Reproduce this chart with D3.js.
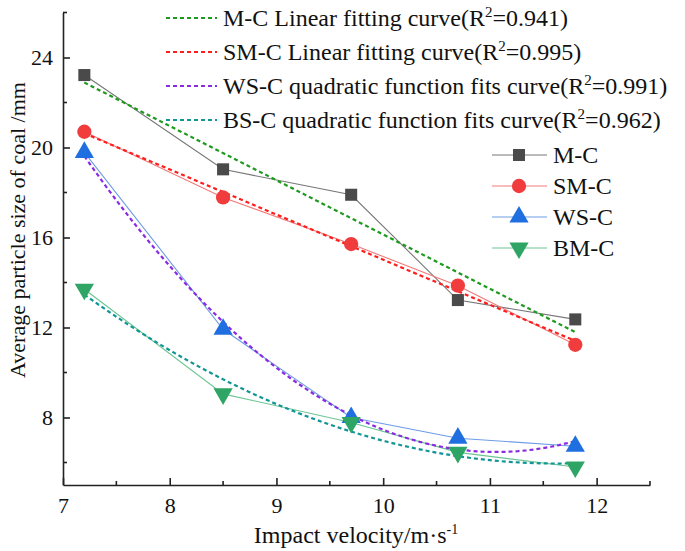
<!DOCTYPE html>
<html><head><meta charset="utf-8">
<script src="https://cdn.jsdelivr.net/npm/d3@7"></script>
<style>body{margin:0;background:#fff}svg{display:block}text{font-family:"Liberation Serif","Times New Roman",serif;fill:#111}</style>
</head><body><svg id="c" width="685" height="551"></svg>
<script>
const velocity = [7.2, 8.5, 9.7, 10.7, 11.8];
const mc  = [23.22, 19.03, 17.9, 13.22, 12.36];
const smc = [20.70, 17.78, 15.71, 13.86, 11.23];
const wsc = [19.78, 11.92, 8.0, 7.08, 6.72];
const bmc = [13.70, 9.05, 7.78, 6.45, 5.80];
const seriesNames = ["M-C", "SM-C", "WS-C", "BM-C"];
const fitLabels = [
  ["M-C Linear fitting curve(R", "2", "=0.941)"],
  ["SM-C Linear fitting curve(R", "2", "=0.995)"],
  ["WS-C quadratic function fits curve(R", "2", "=0.991)"],
  ["BS-C quadratic function fits curve(R", "2", "=0.962)"]
];
const fitDegrees = [1, 1, 2, 2];
const xTicks = [7, 8, 9, 10, 11, 12];
const yTicks = [8, 12, 16, 20, 24];

const svg = d3.select("#c");
const x = d3.scaleLinear().domain([7, 12.5]).range([63, 650]);
const y = d3.scaleLinear().domain([5, 26]).range([485, 12.5]);

const series = [mc, smc, wsc, bmc];
const markColors = ["#4a4a4a", "#f03c3c", "#1f6fe0", "#2ea565"];
const lineColors = ["#777", "#f07a7a", "#6e9de6", "#6cc593"];
const fitColors = ["#1e9a1e", "#ff1e1e", "#8a2be2", "#129595"];
const symbols = [d3.symbolSquare, d3.symbolCircle, d3.symbolTriangle, d3.symbolTriangle];
const symSizes = [145, 160, 160, 160];

function polyfit(xs, ys, deg) {
  const n = deg + 1;
  const A = Array.from({length: n}, () => new Array(n + 1).fill(0));
  xs.forEach((xv, k) => {
    for (let i = 0; i < n; i++) {
      for (let j = 0; j < n; j++) A[i][j] += Math.pow(xv, i + j);
      A[i][n] += ys[k] * Math.pow(xv, i);
    }
  });
  for (let i = 0; i < n; i++) {
    let p = i;
    for (let r = i + 1; r < n; r++) if (Math.abs(A[r][i]) > Math.abs(A[p][i])) p = r;
    [A[i], A[p]] = [A[p], A[i]];
    for (let r = 0; r < n; r++) {
      if (r === i) continue;
      const f = A[r][i] / A[i][i];
      for (let c = i; c <= n; c++) A[r][c] -= f * A[i][c];
    }
  }
  return A.map((row, i) => row[n] / row[i]);
}

// axes
const xAxis = d3.axisBottom(x).tickValues(xTicks).tickFormat(d3.format("d")).tickSizeInner(-7).tickSizeOuter(0).tickPadding(10);
const gx = svg.append("g").attr("transform", "translate(0,485)").call(xAxis);
const yAxis = d3.axisLeft(y).tickValues(yTicks).tickFormat(d3.format("d")).tickSizeInner(-7).tickSizeOuter(0).tickPadding(10);
const gy = svg.append("g").attr("transform", "translate(63,0)").call(yAxis);
[gx, gy].forEach(g => {
  g.select(".domain").attr("stroke", "#222").attr("stroke-width", 1.6);
  g.selectAll(".tick line").attr("stroke", "#222").attr("stroke-width", 1.6);
  g.selectAll(".tick text").attr("font-family", "Liberation Serif").attr("font-size", 22).attr("fill", "#111");
});
gx.selectAll(".tick text").attr("dy", "0.75em").attr("y", 11);
// minor ticks
const xMinor = d3.range(7.5, 12.6, 1);
svg.append("g").selectAll("line").data(xMinor).join("line")
  .attr("x1", d => x(d)).attr("x2", d => x(d)).attr("y1", 485).attr("y2", 481)
  .attr("stroke", "#222").attr("stroke-width", 1.6);
const yMinor = d3.range(6, 26.1, 4);
svg.append("g").selectAll("line").data(yMinor).join("line")
  .attr("x1", 63).attr("x2", 67).attr("y1", d => y(d)).attr("y2", d => y(d))
  .attr("stroke", "#222").attr("stroke-width", 1.6);

// axis titles
svg.append("text").attr("x", 356).attr("y", 543).attr("text-anchor", "middle").attr("font-size", 24)
  .text("Impact velocity/m·s").append("tspan").attr("dy", -9).attr("font-size", 14).text("-1");
svg.append("text").attr("transform", "translate(25,230) rotate(-90)").attr("text-anchor", "middle").attr("font-size", 22)
  .text("Average particle size of coal /mm");

// data lines
const line = d3.line().x((d, i) => x(velocity[i])).y(d => y(d));
series.forEach((s, k) => {
  svg.append("path").attr("d", line(s)).attr("fill", "none").attr("stroke", lineColors[k]).attr("stroke-width", 1.1);
});
// fit curves
series.forEach((s, k) => {
  const c = polyfit(velocity, s, fitDegrees[k]);
  const xs = d3.range(0, 61).map(i => velocity[0] + (velocity[4] - velocity[0]) * i / 60);
  const pts = xs.map(v => [v, c.reduce((a, ci, i) => a + ci * Math.pow(v, i), 0)]);
  svg.append("path").attr("d", d3.line().x(d => x(d[0])).y(d => y(d[1]))(pts))
    .attr("fill", "none").attr("stroke", fitColors[k]).attr("stroke-width", 2.2).attr("stroke-dasharray", "4,3");
});
// markers
function sym(k) { return d3.symbol().type(symbols[k]).size(symSizes[k])(); }
series.forEach((s, k) => {
  svg.append("g").selectAll("path").data(s).join("path")
    .attr("d", sym(k))
    .attr("transform", (d, i) => `translate(${x(velocity[i])},${y(d)})${k === 3 ? " rotate(180)" : ""}`)
    .attr("fill", markColors[k]);
});

// fit legend
fitLabels.forEach((lab, k) => {
  const yy = 18 + k * 34;
  svg.append("line").attr("x1", 166).attr("x2", 217).attr("y1", yy).attr("y2", yy)
    .attr("stroke", fitColors[k]).attr("stroke-width", 2.2).attr("stroke-dasharray", "4,3");
  const t = svg.append("text").attr("x", 223).attr("y", yy + 8).attr("font-size", 24);
  t.append("tspan").text(lab[0]);
  t.append("tspan").attr("dy", -9).attr("font-size", 15).text(lab[1]);
  t.append("tspan").attr("dy", 9).text(lab[2]);
});
// series legend
seriesNames.forEach((n, k) => {
  const yy = 155 + k * 31;
  svg.append("line").attr("x1", 492).attr("x2", 547).attr("y1", yy).attr("y2", yy)
    .attr("stroke", lineColors[k]).attr("stroke-width", 1.1);
  svg.append("path").attr("d", sym(k)).attr("transform", `translate(519,${yy})${k === 3 ? " rotate(180)" : ""}`).attr("fill", markColors[k]);
  svg.append("text").attr("x", 553).attr("y", yy + 8).attr("font-size", 24).text(n);
});
</script></body></html>
